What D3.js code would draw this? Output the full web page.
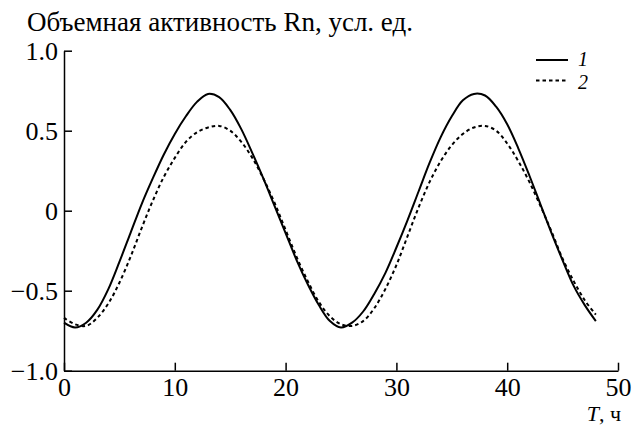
<!DOCTYPE html>
<html><head><meta charset="utf-8">
<script src="https://cdn.jsdelivr.net/npm/d3@7"></script>
<style>body{margin:0;background:#fff}svg{display:block}</style>
</head><body>
<svg id="c" width="632" height="425"></svg>
<script>
const hours = d3.range(0, 49);
const series1 = [-0.70,-0.73,-0.70,-0.62,-0.49,-0.32,-0.14,0.04,0.20,0.35,0.48,0.59,0.68,0.73,0.71,0.63,0.51,0.36,0.20,0.03,-0.14,-0.31,-0.46,-0.59,-0.69,-0.73,-0.70,-0.63,-0.52,-0.39,-0.23,-0.06,0.12,0.30,0.46,0.59,0.69,0.73,0.72,0.65,0.54,0.39,0.22,0.04,-0.14,-0.31,-0.47,-0.59,-0.69];
const series2 = [-0.67,-0.71,-0.72,-0.67,-0.58,-0.45,-0.29,-0.11,0.06,0.21,0.33,0.43,0.49,0.52,0.53,0.50,0.43,0.33,0.20,0.05,-0.12,-0.29,-0.44,-0.57,-0.66,-0.71,-0.72,-0.69,-0.61,-0.49,-0.34,-0.16,0.02,0.18,0.31,0.41,0.48,0.52,0.53,0.50,0.42,0.31,0.18,0.03,-0.13,-0.30,-0.44,-0.56,-0.65];
const xTicks = [0,10,20,30,40,50];
const yTicks = [-1.0,-0.5,0,0.5,1.0];
const yTickLabels = ["\u22121.0","\u22120.5","0","0.5","1.0"];
const legendLabels = ["1","2"];
const yTitle = "Объемная активность Rn, усл. ед.";

const FONT = "Liberation Serif";
const svg = d3.select("#c");
const x = d3.scaleLinear().domain([0,50]).range([64,618]);
const y = d3.scaleLinear().domain([-1,1]).range([370.7,50.7]);
const fs = 26;

const gx = svg.append("g").attr("transform",`translate(0,${y(-1)})`)
  .call(d3.axisBottom(x).tickValues(xTicks).tickSizeInner(-8).tickSizeOuter(0).tickFormat(d3.format("d")));
const gy = svg.append("g").attr("transform",`translate(${x(0)},0)`)
  .call(d3.axisLeft(y).tickValues(yTicks).tickSizeInner(-8).tickSizeOuter(0).tickFormat((d,i)=>yTickLabels[i]));
[gx,gy].forEach(g=>{
  g.attr("font-family",FONT).attr("font-size",fs);
  g.select(".domain").attr("stroke","#000").attr("stroke-width",1.5);
  g.selectAll(".tick line").attr("stroke","#000").attr("stroke-width",1.5);
  g.selectAll(".tick text").style("font-family",FONT).attr("font-size",fs).attr("fill","#000");
});
gx.selectAll(".tick text").attr("y",0).attr("dy",0).attr("transform","translate(0,25)");
gy.selectAll(".tick text").attr("x",-6).attr("dy","0.35em");

const line = d3.line().x((d,i)=>x(hours[i])).y(d=>y(d)).curve(d3.curveCatmullRom);
svg.append("path").datum(series1).attr("d",line).attr("fill","none").attr("stroke","#000").attr("stroke-width",2);
svg.append("path").datum(series2).attr("d",line).attr("fill","none").attr("stroke","#000").attr("stroke-width",2).attr("stroke-dasharray","3.5,3");

const lg = svg.append("g");
lg.append("line").attr("x1",536).attr("x2",568).attr("y1",60).attr("y2",60).attr("stroke","#000").attr("stroke-width",2);
lg.append("line").attr("x1",536).attr("x2",568).attr("y1",80.5).attr("y2",80.5).attr("stroke","#000").attr("stroke-width",2).attr("stroke-dasharray","3.5,3");
lg.append("text").attr("x",578).attr("y",66).style("font-family",FONT).attr("font-size",20).attr("font-style","italic").text(legendLabels[0]);
lg.append("text").attr("x",578).attr("y",89).style("font-family",FONT).attr("font-size",20).attr("font-style","italic").text(legendLabels[1]);

svg.append("text").attr("x",27).attr("y",31).style("font-family",FONT).attr("font-size",27).text(yTitle);
const xl = svg.append("text").attr("x",621).attr("y",421).style("font-family",FONT).attr("font-size",22).attr("text-anchor","end");
xl.append("tspan").attr("font-style","italic").text("T");
xl.append("tspan").text(", ч");
</script>
</body></html>
